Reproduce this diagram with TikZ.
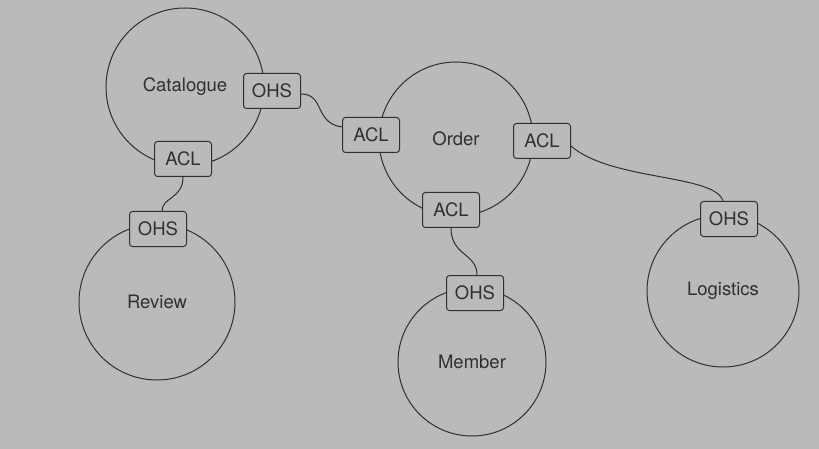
\documentclass[tikz,border=0pt]{standalone}
\usepackage{fontspec}
\setmainfont{TeX Gyre Heros}
\definecolor{paper}{RGB}{184,187,183}
\definecolor{ink}{RGB}{48,48,48}
\begin{document}
\begin{tikzpicture}[x=1pt,y=-1pt,
  ctx/.style={circle,draw=ink,line width=1pt,inner sep=0pt,text=ink,font=\fontsize{18.5}{21}\selectfont},
  port/.style={draw=ink,fill=paper,line width=1pt,rounded corners=3pt,minimum width=57pt,minimum height=35pt,inner sep=0pt,text=ink,font=\fontsize{18.5}{21}\selectfont},
  link/.style={draw=ink,line width=1pt}]
\fill[paper] (0,0) rectangle (819,449);
\useasboundingbox (0,0) rectangle (819,449);
% contexts
\node[ctx,minimum size=158pt] (cat) at (185,87) {Catalogue};
\node[ctx,minimum size=154pt] (ord) at (456,139) {Order};
\node[ctx,minimum size=156pt] (rev) at (157,302) {Review};
\node[ctx,minimum size=148pt] (mem) at (472,362) {Member};
\node[ctx,minimum size=152pt] (log) at (723,291) {Logistics};
% ports
\node[port] (cohs) at (272,91) {OHS};
\node[port] (cacl) at (183,159) {ACL};
\node[port] (oaclw) at (371,135) {ACL};
\node[port] (oacle) at (542,141) {ACL};
\node[port] (oacls) at (451,210) {ACL};
\node[port] (rohs) at (158,229) {OHS};
\node[port] (mohs) at (475,293) {OHS};
\node[port] (lohs) at (729,219) {OHS};
% connectors
\draw[link] ([yshift=-3pt]cohs.east) .. controls +(24,0) and +(-28,-4) .. ([yshift=8pt]oaclw.west);
\draw[link] (cacl.south) .. controls +(0,22) and +(0,-14) .. ([xshift=4pt]rohs.north);
\draw[link] (oacls.south) .. controls +(0,28) and +(0,-22) .. ([xshift=2pt]mohs.north);
\draw[link] ([yshift=-5pt]oacle.east) .. controls +(40,35) and +(-8,-27) .. ([xshift=-6pt]lohs.north);
\end{tikzpicture}
\end{document}
